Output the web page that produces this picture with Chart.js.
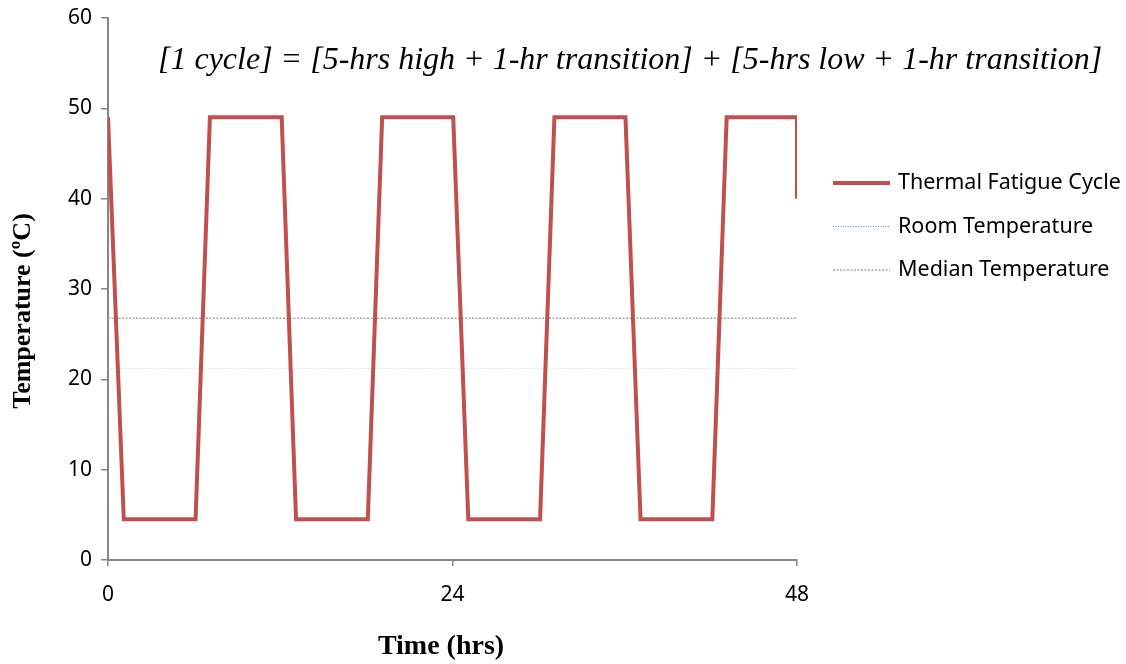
<!DOCTYPE html>
<html>
<head>
<meta charset="utf-8">
<script src="https://cdn.jsdelivr.net/npm/chart.js@4"></script>
<style>
  html, body { margin: 0; padding: 0; background: #fff; }
  #wrap { width: 1126px; height: 664px; }
</style>
</head>
<body>
<div id="wrap"><canvas id="myChart"></canvas></div>
<script>
// data
const cycleHours = [0, 1.1, 6.1, 7.1, 12.1, 13.1, 18.1, 19.1, 24.05, 25.1, 30.1, 31.1, 36.05, 37.1, 42.1, 43.1, 48, 48];
const cycleTemps = [49, 4.5, 4.5, 49, 49, 4.5, 4.5, 49, 49, 4.5, 4.5, 49, 49, 4.5, 4.5, 49, 49, 40];
const refHours = [0, 48];
const roomTemps = [21.2, 21.2];
const medianTemps = [26.75, 26.75];
const xTicks = [0, 24, 48];
const seriesNames = ["Thermal Fatigue Cycle", "Room Temperature", "Median Temperature"];
const xTitle = "Time (hrs)";
const yTitle = "Temperature (ºC)";
const cycleNote = "[1 cycle] = [5-hrs high + 1-hr transition] + [5-hrs low + 1-hr transition]";

function toPoints(xs, ys) {
  return xs.map(function (x, i) {
    return { x: x, y: ys[i] };
  });
}

// note text, axis titles + legend drawn on top
const overlayPlugin = {
  id: "overlay",
  afterDraw(chart) {
    const ctx = chart.ctx;
    ctx.save();
    ctx.fillStyle = "#000";
    ctx.textBaseline = "middle";
    ctx.textAlign = "left";
    ctx.font = "italic 32px 'Liberation Serif'";
    ctx.fillText(cycleNote, 158, 61);

    // axis titles
    ctx.textAlign = "center";
    ctx.font = "bold 28px 'Liberation Serif'";
    ctx.fillText(xTitle, 441, 647);
    ctx.save();
    ctx.translate(23, 311);
    ctx.rotate(-Math.PI / 2);
    ctx.font = "bold 26px 'Liberation Serif'";
    ctx.fillText(yTitle, 0, 0);
    ctx.restore();

    ctx.textAlign = "left";
    chart.data.datasets.forEach(function (ds, i) {
      const y = 183 + i * 43.5;
      ctx.strokeStyle = ds.legendColor || ds.borderColor;
      ctx.lineWidth = ds.borderWidth;
      ctx.setLineDash(ds.borderDash || []);
      ctx.beginPath();
      ctx.moveTo(833, y);
      ctx.lineTo(890, y);
      ctx.stroke();
      ctx.setLineDash([]);
      ctx.font = "21.5px 'Noto Sans'";
      ctx.fillStyle = "#000";
      ctx.fillText(ds.label, 898, y);
    });
    ctx.restore();
  },
};

const data = {
  datasets: [
    {
      label: seriesNames[0],
      data: toPoints(cycleHours, cycleTemps),
      borderColor: "#C0504D",
      borderWidth: 4,
      borderJoinStyle: "miter",
      pointRadius: 0,
      tension: 0,
    },
    {
      label: seriesNames[1],
      data: toPoints(refHours, roomTemps),
      borderColor: "rgba(200, 215, 235, 0.9)",
      legendColor: "#5B8FD0",
      borderWidth: 1,
      borderDash: [1, 1.5],
      pointRadius: 0,
    },
    {
      label: seriesNames[2],
      data: toPoints(refHours, medianTemps),
      borderColor: "#A6A6A6",
      borderWidth: 1.5,
      borderDash: [2, 1.5],
      pointRadius: 0,
    },
  ],
};

const axisColor = "#868686";

const config = {
  type: "line",
  data,
  options: {
    responsive: true,
    maintainAspectRatio: false,
    animation: false,
    layout: {
      padding: { top: 18, right: 329, left: 0, bottom: 0 },
    },
    plugins: {
      legend: { display: false },
      tooltip: { enabled: false },
    },
    scales: {
      x: {
        type: "linear",
        min: 0,
        max: 48,
        afterBuildTicks: function (scale) {
          scale.ticks = xTicks.map(function (v) {
            return { value: v };
          });
        },
        afterFit: function (scale) {
          scale.height = 104;
        },
        grid: {
          drawOnChartArea: false,
          drawTicks: true,
          tickLength: 6,
          color: axisColor,
          lineWidth: 1.5,
        },
        border: { color: axisColor, width: 2 },
        ticks: {
          color: "#000",
          font: { family: "'Noto Sans'", size: 21 },
          padding: 16,
          maxRotation: 0,
        },
      },
      y: {
        min: 0,
        max: 60,
        afterFit: function (scale) {
          scale.width = 108;
          scale.paddingTop = 0;
          scale.paddingBottom = 0;
        },
        grid: {
          drawOnChartArea: false,
          drawTicks: true,
          tickLength: 7,
          color: axisColor,
          lineWidth: 1.5,
        },
        border: { color: axisColor, width: 2 },
        ticks: {
          stepSize: 10,
          color: "#000",
          font: { family: "'Noto Sans'", size: 21 },
          padding: 9,
        },
      },
    },
  },
  plugins: [overlayPlugin],
};

const myChart = new Chart(document.getElementById("myChart"), config);
</script>
</body>
</html>
